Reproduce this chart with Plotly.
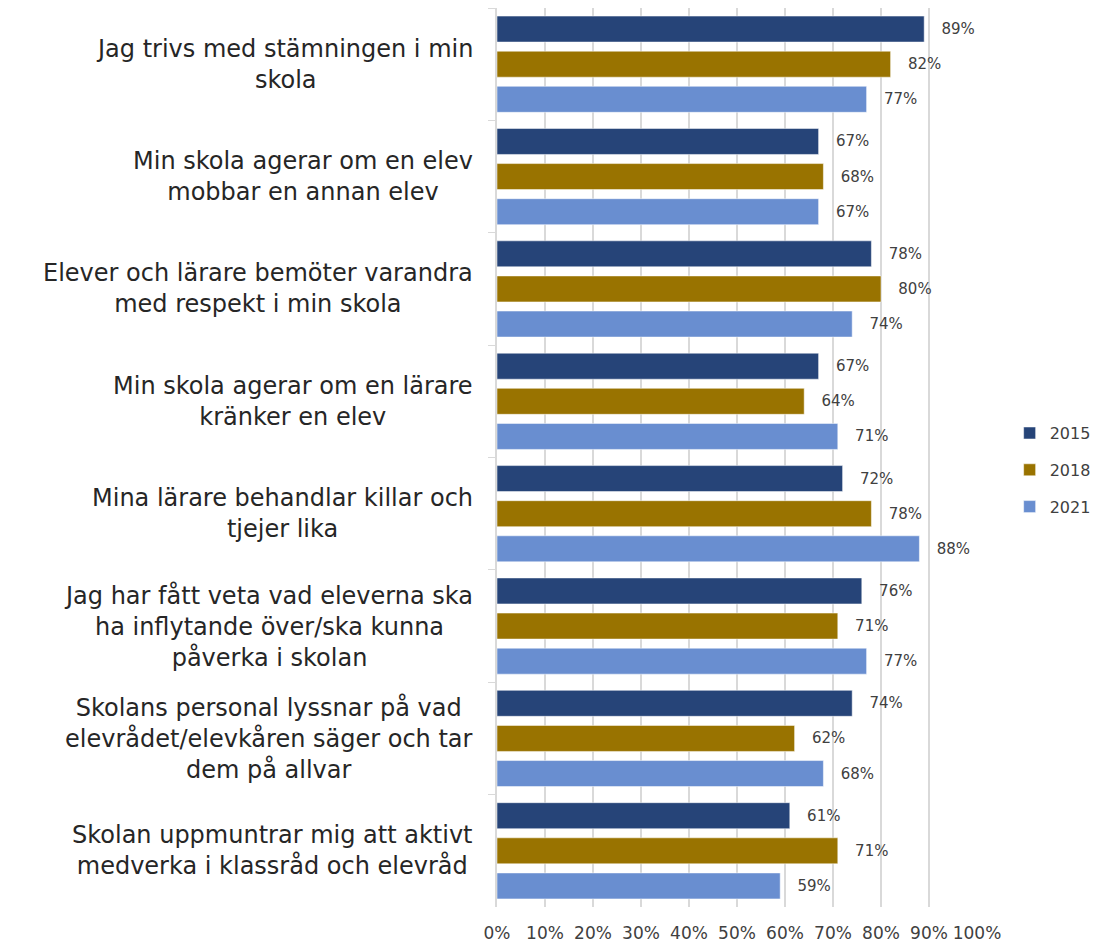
import plotly.graph_objects as go

categories = [
    "Jag trivs med stämningen i min<br>skola",
    "Min skola agerar om en elev<br>mobbar en annan elev",
    "Elever och lärare bemöter varandra<br>med respekt i min skola",
    "Min skola agerar om en lärare<br>kränker en elev",
    "Mina lärare behandlar killar och<br>tjejer lika",
    "Jag har fått veta vad eleverna ska<br>ha inflytande över/ska kunna<br>påverka i skolan",
    "Skolans personal lyssnar på vad<br>elevrådet/elevkåren säger och tar<br>dem på allvar",
    "Skolan uppmuntrar mig att aktivt<br>medverka i klassråd och elevråd",
]
y2015 = [89, 67, 78, 67, 72, 76, 74, 61]
y2018 = [82, 68, 80, 64, 78, 71, 62, 71]
y2021 = [77, 67, 74, 71, 88, 77, 68, 59]

series = [("2015", y2015, "#264478"), ("2018", y2018, "#997300"), ("2021", y2021, "#698ED0")]

fig = go.Figure()
for name, vals, col in series:
    fig.add_trace(go.Bar(
        y=categories, x=vals, name=name, orientation="h", legendgroup=name,
        marker=dict(color=col, line=dict(color="white", width=0.5)),
        text=[f"   {v}%" for v in vals], textposition="outside", cliponaxis=False,
        textfont=dict(family="DejaVu Sans", size=15, color="#404040"),
    ))

# category labels: centred lines, right-anchored next to the axis
for c in categories:
    fig.add_annotation(x=0, xref="paper", y=c, yref="y", text=c, showarrow=False,
                       xanchor="right", align="center", xshift=-22,
                       font=dict(family="DejaVu Sans", size=24, color="#262626"))

# page body adds 8px, so the figure is a bit smaller than the window
fig.update_layout(
    width=1094, height=934,
    margin=dict(l=489, r=125, t=0, b=35, autoexpand=False),
    barmode="group", bargap=0.0625, bargroupgap=0.26,
    plot_bgcolor="white", paper_bgcolor="white",
    font=dict(family="DejaVu Sans", color="#404040"),
    showlegend=True,
    legend=dict(x=1.068, y=0.486, xanchor="left", yanchor="middle",
                font=dict(size=16, color="#404040"), itemwidth=30, tracegroupgap=13),
    xaxis=dict(range=[0, 100], dtick=10, ticksuffix="%", showgrid=True,
               gridcolor="#D9D9D9", gridwidth=1.5, zeroline=False,
               ticklabelstandoff=14,
               tickfont=dict(size=17, color="#404040")),
    yaxis=dict(autorange="reversed", showticklabels=False, ticks="outside",
               tickson="boundaries", ticklen=7, tickcolor="#D9D9D9",
               showline=True, linecolor="#D9D9D9", linewidth=1.5),
)

fig.write_html("out.html")
